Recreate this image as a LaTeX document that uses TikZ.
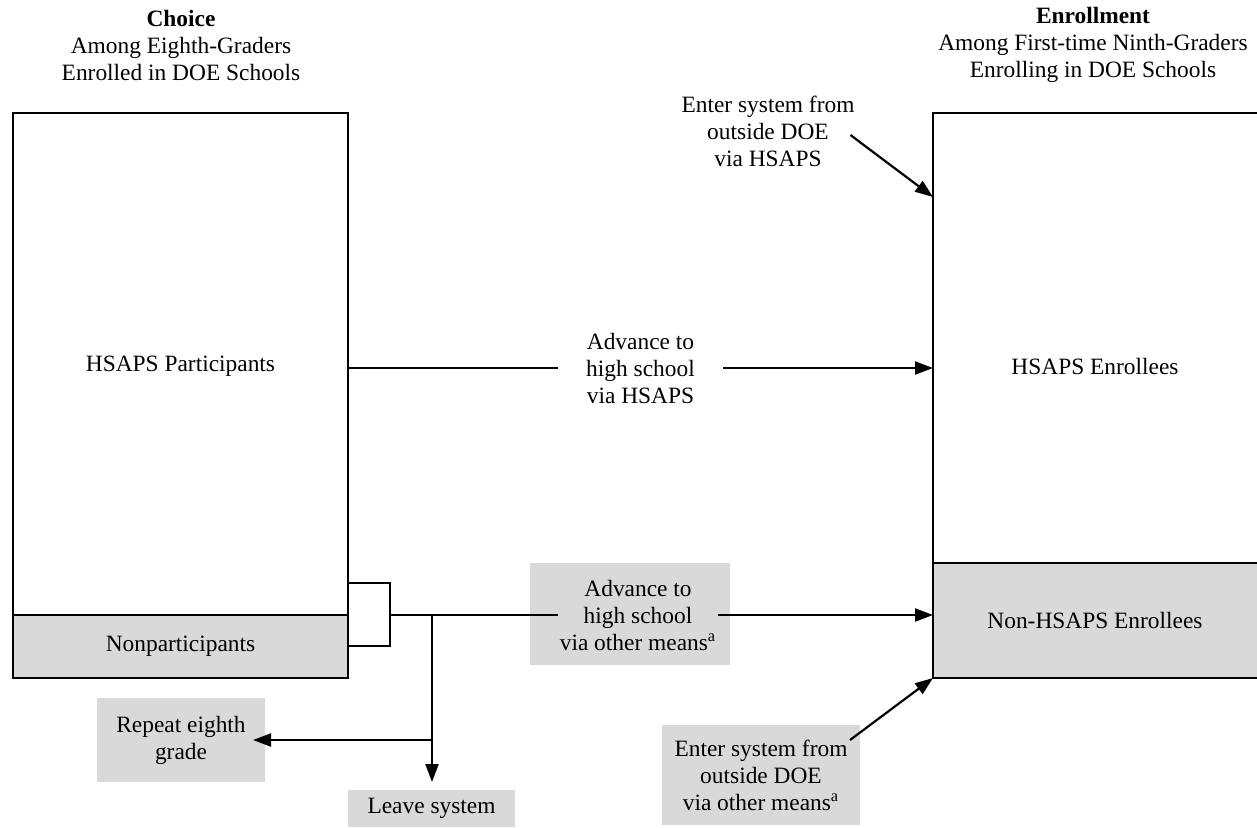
\documentclass[tikz,border=0pt]{standalone}
\usepackage{fontspec}
\setmainfont{Liberation Serif}
\usetikzlibrary{arrows.meta,calc}
\definecolor{boxgray}{RGB}{217,217,217}
\begin{document}
\begin{tikzpicture}[x=0.5pt,y=-0.5pt,
  every node/.style={font=\fontsize{11.7}{13.5}\selectfont, align=center, inner sep=0pt, outer sep=0pt},
  frame/.style={draw, line width=1.1pt},
  arr/.style={-{Triangle[length=9pt,width=6.5pt]}, line width=1.1pt},
  ln/.style={line width=1.1pt},
  graybox/.style={fill=boxgray},
]
\useasboundingbox (0,0) rectangle (1257,827);
% headings
\node (hl) at (181,45) {\textbf{Choice}\\Among Eighth-Graders\\Enrolled in DOE Schools};
\node (hr) at (1093,45) {\textbf{Enrollment}\\Among First-time Ninth-Graders\\Enrolling in DOE Schools};
% left boxes
\node[frame, minimum width=167.5pt, minimum height=251pt] (lpart) at (180.5,364) {};
\node (tlpart) at (180.5,366) {HSAPS Participants};
\node[frame, graybox, minimum width=167.5pt, minimum height=31.5pt] (lnon) at (180.5,646.5) {Nonparticipants};
% right boxes (right border lies just outside the picture)
\node[frame, minimum width=166pt, minimum height=225pt] (rpart) at (1099,338) {};
\node (trpart) at (1095,366) {HSAPS Enrollees};
\node[frame, graybox, minimum width=166pt, minimum height=57.5pt] (rnon) at (1099,620.5) {};
\node (trnon) at (1095,620.5) {Non-HSAPS Enrollees};
% advance via HSAPS
\node[minimum width=82.5pt] (adv1) at (640.5,368) {Advance to\\high school\\via HSAPS};
\draw[ln] (lpart.east |- adv1.west) -- (adv1.west);
\draw[arr] (adv1.east) -- (adv1.east -| rpart.west);
% advance via other means
\node[graybox, minimum width=100pt, minimum height=51pt] (adv2box) at (630,614) {};
\node[minimum width=80pt] (adv2) at (638,615) {Advance to\\high school\\via other means\textsuperscript{a}};
% bracket
\coordinate (bt1) at (348,583);
\coordinate (bt2) at (390,583);
\coordinate (bb2) at (390,646);
\coordinate (bb1) at (348,646);
\coordinate (bk) at (390,615);
\coordinate (sp) at (432,615);
\coordinate (sp2) at (432,740);
\draw[ln] (bt1) -- (bt2) -- (bb2) -- (bb1);
\draw[ln] (bk) -- (adv2.west);
\draw[arr] (adv2.east) -- (adv2.east -| rnon.west);
% repeat / leave
\node[graybox, minimum width=84pt, minimum height=42pt] (repeat) at (181,740) {Repeat eighth\\grade};
\node[graybox, minimum width=83.5pt, minimum height=18.5pt] (leave) at (431.5,808.5) {Leave system};
\draw[arr, shorten >=4pt] (sp) -- (sp |- leave.north);
\draw[arr, shorten >=-6pt] (sp2) -- (repeat.east);
% entries
\node (ent1) at (768,131) {Enter system from\\outside DOE\\via HSAPS};
\coordinate (e1t) at (933,197);
\draw[arr] ([shift={(-4,4)}]ent1.east) -- (e1t);
\node[graybox, minimum width=99pt, minimum height=50pt] (ent2) at (761,775) {Enter system from\\outside DOE\\via other means\textsuperscript{a}};
\draw[arr] ([shift={(-10,15)}]ent2.north east) -- (rnon.south west);
\end{tikzpicture}
\end{document}
